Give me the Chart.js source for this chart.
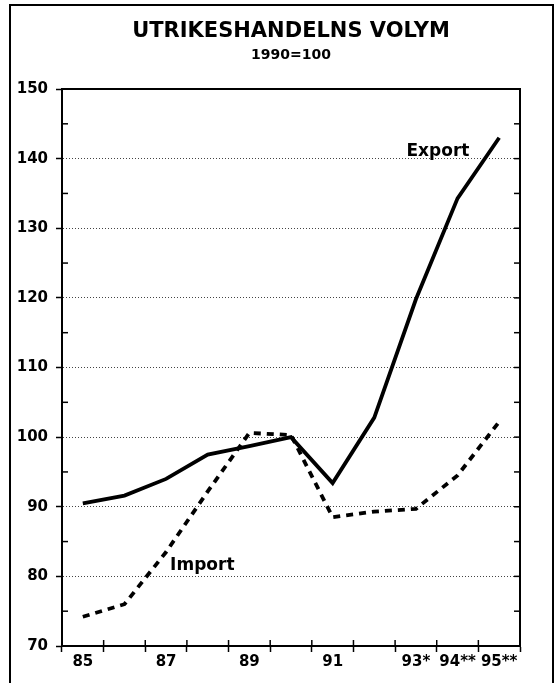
<!DOCTYPE html>
<html>
<head>
<meta charset="utf-8">
<script src="https://cdn.jsdelivr.net/npm/chart.js@4/dist/chart.umd.min.js"></script>
<style>
  html, body { margin: 0; padding: 0; background: #fff; }
</style>
</head>
<body>
<canvas id="chart" width="557" height="683"></canvas>
<script>
// Årtal (kategorier) och etiketter på x-axeln
const years = ['85', '86', '87', '88', '89', '90', '91', '92', '93*', '94**', '95**'];
const xTickLabels = ['85', '', '87', '', '89', '', '91', '', '93*', '94**', '95**'];

// Volymindex, 1990=100
const exportVolume = [90.5, 91.6, 94.0, 97.5, 98.7, 100.0, 93.4, 102.8, 119.8, 134.3, 143.0];
const importVolume = [74.2, 76.0, 83.5, 92.2, 100.6, 100.3, 88.5, 89.3, 89.7, 94.5, 102.2];

const yMin = 70;
const yMax = 150;
const yStep = 10;

const FONT = "'DejaVu Sans', sans-serif";

// Ram, rubrik, övre/högra axellinjer och småstreck
const decorPlugin = {
    id: 'decor',
    afterDraw(chart) {
        const ctx = chart.ctx;
        const a = chart.chartArea;
        const y = chart.scales.y;
        const x = chart.scales.x;

        ctx.save();
        ctx.strokeStyle = '#000';
        ctx.lineWidth = 2;
        ctx.strokeRect(10, 5, 543, 700);

        ctx.fillStyle = '#000';
        ctx.textAlign = 'center';
        ctx.textBaseline = 'middle';
        ctx.font = "bold 21px " + FONT;
        ctx.fillText('UTRIKESHANDELNS VOLYM', 291, 32);
        ctx.font = "bold 14px " + FONT;
        ctx.fillText('1990=100', 291, 55);

        // övre och högra kanten
        ctx.lineWidth = 2;
        ctx.beginPath();
        ctx.moveTo(a.left, a.top);
        ctx.lineTo(a.right, a.top);
        ctx.lineTo(a.right, a.bottom);
        ctx.stroke();

        // småstreck inåt
        ctx.lineWidth = 1.5;
        for (let v = yMin + 5; v < yMax; v += 5) {
            const py = y.getPixelForValue(v);
            if (v % 10 !== 0) {
                ctx.beginPath();
                ctx.moveTo(a.left, py);
                ctx.lineTo(a.left + 6, py);
                ctx.stroke();
            }
            ctx.beginPath();
            ctx.moveTo(a.right, py);
            ctx.lineTo(a.right - 6, py);
            ctx.stroke();
        }
        for (let i = 0; i <= years.length; i++) {
            const px = x.getPixelForValue(i - 0.5);
            ctx.beginPath();
            ctx.moveTo(px, a.bottom);
            ctx.lineTo(px, a.bottom - 6);
            ctx.stroke();
        }
        ctx.restore();
    },
    afterDatasetsDraw(chart) {
        const ctx = chart.ctx;
        const x = chart.scales.x;
        const y = chart.scales.y;
        ctx.save();
        ctx.fillStyle = '#000';
        ctx.textAlign = 'center';
        ctx.textBaseline = 'middle';
        ctx.font = "bold 17px " + FONT;
        ctx.fillText('Export', x.getPixelForValue(8.53), y.getPixelForValue(141));
        ctx.fillText('Import', x.getPixelForValue(2.87), y.getPixelForValue(81.6));
        ctx.restore();
    }
};

new Chart(document.getElementById('chart'), {
    type: 'line',
    data: {
        labels: years,
        datasets: [
            {
                label: 'Export',
                data: exportVolume,
                borderColor: '#000',
                borderWidth: 3.8,
                pointRadius: 0,
                tension: 0,
                borderCapStyle: 'butt',
                borderJoinStyle: 'miter'
            },
            {
                label: 'Import',
                data: importVolume,
                borderColor: '#000',
                borderWidth: 3.8,
                borderDash: [7, 6],
                pointRadius: 0,
                tension: 0
            }
        ]
    },
    options: {
        responsive: false,
        animation: false,
        layout: { padding: { left: 10, right: 37, top: 89, bottom: 0 } },
        plugins: {
            legend: { display: false },
            tooltip: { enabled: false }
        },
        scales: {
            x: {
                offset: true,
                afterFit: (s) => { s.height = 37; },
                grid: {
                    offset: true,
                    drawOnChartArea: false,
                    tickLength: 6,
                    tickColor: '#000',
                    tickWidth: 1.5
                },
                border: { color: '#000', width: 2 },
                ticks: {
                    autoSkip: false,
                    maxRotation: 0,
                    padding: 1,
                    color: '#000',
                    font: { family: FONT, size: 15, weight: 'bold' },
                    callback: (v, i) => xTickLabels[i]
                }
            },
            y: {
                min: yMin,
                max: yMax,
                afterFit: (s) => { s.width = 52; },
                grid: {
                    color: (c) => (c.tick && (c.tick.value === yMin || c.tick.value === yMax)) ? 'rgba(0,0,0,0)' : '#444',
                    lineWidth: 1,
                    tickLength: 6,
                    tickColor: '#000',
                    tickWidth: 1.5
                },
                border: { color: '#000', width: 2, dash: [1, 2] },
                ticks: {
                    stepSize: yStep,
                    padding: 8,
                    color: '#000',
                    font: { family: FONT, size: 15, weight: 'bold' }
                }
            }
        }
    },
    plugins: [decorPlugin]
});
</script>
</body>
</html>
